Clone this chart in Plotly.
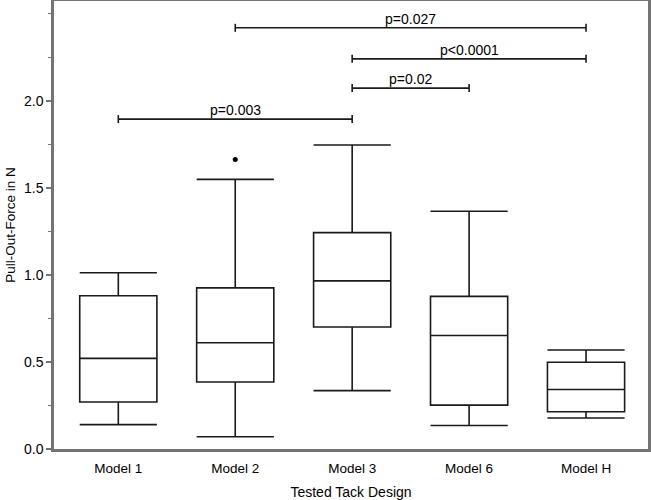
import plotly.graph_objects as go

categories = ["Model 1", "Model 2", "Model 3", "Model 6", "Model H"]
lower_whisker = [0.14, 0.07, 0.335, 0.135, 0.178]
q1_values = [0.27, 0.385, 0.70, 0.252, 0.214]
median_values = [0.52, 0.61, 0.965, 0.652, 0.342]
q3_values = [0.88, 0.925, 1.242, 0.876, 0.498]
upper_whisker = [1.012, 1.548, 1.745, 1.365, 0.568]

outlier_category = ["Model 2"]
outlier_values = [1.662]

bracket_start = ["Model 1", "Model 3", "Model 3", "Model 2"]
bracket_end = ["Model 3", "Model 6", "Model H", "Model H"]
bracket_y = [1.894, 2.072, 2.240, 2.418]
bracket_text = ["p=0.003", "p=0.02", "p<0.0001", "p=0.027"]

ytick_vals = [0.0, 0.5, 1.0, 1.5, 2.0]
ytick_text = ["0.0", "0.5", "1.0", "1.5", "2.0"]

FONT = "Arial, Liberation Sans, sans-serif"
LINE = "#1a1a1a"
FRAME = "#747474"

idx = {c: i for i, c in enumerate(categories)}

fig = go.Figure()
fig.add_trace(go.Box(
    x=[idx[c] for c in categories],
    q1=q1_values,
    median=median_values,
    q3=q3_values,
    lowerfence=lower_whisker,
    upperfence=upper_whisker,
    width=0.66,
    whiskerwidth=1,
    fillcolor="rgba(255,255,255,0)",
    line=dict(color=LINE, width=1.6),
    boxpoints=False,
    showlegend=False,
    hoverinfo="skip",
))
fig.add_trace(go.Scatter(
    x=[idx[c] for c in outlier_category], y=outlier_values, mode="markers",
    marker=dict(color="black", size=5),
    showlegend=False, hoverinfo="skip",
))

for s, e, yv, t in zip(bracket_start, bracket_end, bracket_y, bracket_text):
    x0, x1 = idx[s], idx[e]
    fig.add_shape(type="line", xref="x", yref="y", x0=x0, x1=x1, y0=yv, y1=yv,
                  line=dict(color=LINE, width=1.6))
    for xe in (x0, x1):
        fig.add_shape(type="line", xref="x", yref="y", x0=xe, x1=xe,
                      ysizemode="pixel", yanchor=yv, y0=-4, y1=4,
                      line=dict(color=LINE, width=1.6))
    fig.add_annotation(x=(x0 + x1) / 2, y=yv, xref="x", yref="y", text=t,
                       showarrow=False, yanchor="bottom", yshift=-1,
                       font=dict(family=FONT, size=14, color="black"))

fig.update_xaxes(
    type="linear",
    range=[-0.55, 4.53],
    tickvals=list(range(len(categories))),
    ticktext=categories,
    ticks="",
    ticklabelstandoff=5,
    showgrid=False, zeroline=False,
    showline=True, linecolor=FRAME, linewidth=2.5, mirror=True,
    automargin=False,
    tickfont=dict(family=FONT, size=13.5, color="black"),
    title=dict(text="Tested Tack Design", font=dict(family=FONT, size=14, color="black"), standoff=14),
)
fig.update_yaxes(
    range=[0, 2.572],
    tickvals=ytick_vals, ticktext=ytick_text,
    ticks="outside", ticklen=5, tickwidth=1.5, tickcolor=FRAME,
    minor=dict(dtick=0.25, ticks="outside", ticklen=3, tickwidth=1, tickcolor=FRAME, showgrid=False),
    showgrid=False, zeroline=False,
    showline=True, linecolor=FRAME, linewidth=2.5, mirror=True,
    automargin=False,
    tickfont=dict(family=FONT, size=14, color="black"),
    title=dict(text="Pull-Out-Force in N", font=dict(family=FONT, size=13.5, color="black"), standoff=6),
)
fig.update_layout(
    width=651, height=500,
    margin=dict(l=54, r=3, t=1, b=51),
    plot_bgcolor="white", paper_bgcolor="white",
)

fig.write_html("out.html", config={"displayModeBar": False},
               post_script="document.body.style.margin='0';")
